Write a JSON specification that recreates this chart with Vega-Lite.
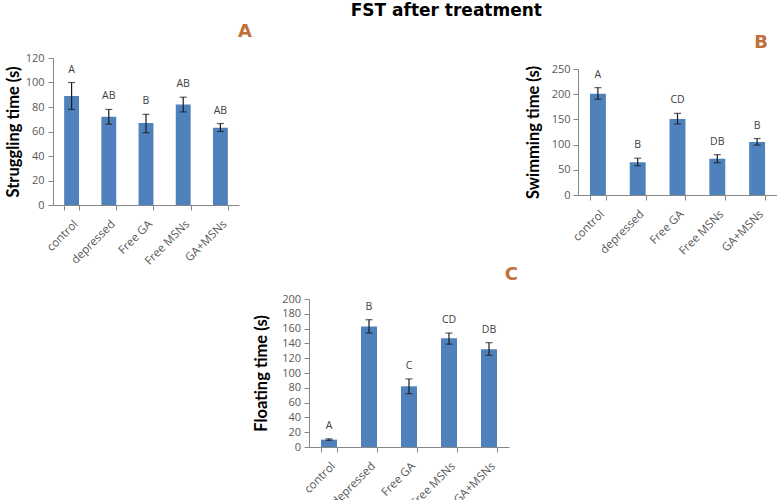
{
  "$schema": "https://vega.github.io/schema/vega-lite/v6.json",
  "padding": {"left": 5, "top": 2, "right": 0, "bottom": 0},
  "background": "white",
  "title": {"text": "FST after treatment", "font": "DejaVu Sans", "fontWeight": "bold", "fontSize": 17, "color": "#000000", "anchor": "middle", "frame": "bounds", "dx": 55, "offset": 3},
  "datasets": {
    "a": [
      {"group": "control", "mean": 89, "lo": 78, "hi": 100, "letter": "A"},
      {"group": "depressed", "mean": 72, "lo": 66, "hi": 78, "letter": "AB"},
      {"group": "Free GA", "mean": 67, "lo": 59, "hi": 74, "letter": "B"},
      {"group": "Free MSNs", "mean": 82, "lo": 76, "hi": 88, "letter": "AB"},
      {"group": "GA+MSNs", "mean": 63, "lo": 60, "hi": 66.5, "letter": "AB"}
    ],
    "b": [
      {"group": "control", "mean": 201, "lo": 190, "hi": 213, "letter": "A"},
      {"group": "depressed", "mean": 65, "lo": 58, "hi": 73, "letter": "B"},
      {"group": "Free GA", "mean": 151, "lo": 141, "hi": 162, "letter": "CD"},
      {"group": "Free MSNs", "mean": 72, "lo": 64, "hi": 80, "letter": "DB"},
      {"group": "GA+MSNs", "mean": 105, "lo": 99, "hi": 112, "letter": "B"}
    ],
    "c": [
      {"group": "control", "mean": 10, "lo": 9, "hi": 11, "letter": "A"},
      {"group": "depressed", "mean": 163, "lo": 154, "hi": 172, "letter": "B"},
      {"group": "Free GA", "mean": 82, "lo": 72, "hi": 92, "letter": "C"},
      {"group": "Free MSNs", "mean": 147, "lo": 139, "hi": 154, "letter": "CD"},
      {"group": "GA+MSNs", "mean": 132, "lo": 124, "hi": 141, "letter": "DB"}
    ],
    "empty": []
  },
  "config": {
    "view": {"stroke": null},
    "font": "Open Sans",
    "axis": {"grid": false, "domainColor": "#868686", "tickColor": "#868686", "tickSize": 5, "labelColor": "#595959", "labelFont": "Open Sans", "labelFontSize": 11, "titleFont": "Lato", "titleFontWeight": "bold", "titleFontSize": 16.5, "titleColor": "#000000"},
    "axisX": {"labelFontSize": 11.5},
    "title": {"font": "DejaVu Sans", "fontWeight": "bold", "fontSize": 18, "color": "#c0703c", "anchor": "end", "frame": "group"}
  },
  "spacing": -1,
  "vconcat": [
    {
      "spacing": 273,
      "hconcat": [
        {
          "width": 186, "height": 147,
          "title": {"text": "A", "dx": 13, "offset": 11},
          "data": {"name": "a"},
          "encoding": {"x": {"field": "group", "type": "nominal", "sort": null, "scale": {"paddingInner": 0.6, "paddingOuter": 0.3}, "axis": {"title": null, "labelAngle": -45, "tickBand": "extent", "labelPadding": 8}}},
          "layer": [
            {"mark": {"type": "bar", "color": "#4f81bd"}, "encoding": {"y": {"field": "mean", "type": "quantitative", "title": "Struggling time (s)", "scale": {"domain": [0, 120]}, "axis": {"values": [0, 20, 40, 60, 80, 100, 120], "titlePadding": 3.5, "labelPadding": 4}}}},
            {"mark": {"type": "errorbar", "ticks": {"size": 7}, "color": "#1a1a1a", "thickness": 1.2}, "encoding": {"y": {"field": "lo", "type": "quantitative", "title": "Struggling time (s)", "scale": {"domain": [0, 120]}, "axis": {"values": [0, 20, 40, 60, 80, 100, 120], "titlePadding": 3.5, "labelPadding": 4}}, "y2": {"field": "hi"}}},
            {"mark": {"type": "text", "dy": -10, "baseline": "alphabetic", "color": "#404040", "fontSize": 10.5, "font": "Open Sans"}, "encoding": {"y": {"field": "hi", "type": "quantitative", "title": "Struggling time (s)", "scale": {"domain": [0, 120]}, "axis": {"values": [0, 20, 40, 60, 80, 100, 120], "titlePadding": 3.5, "labelPadding": 4}}, "text": {"field": "letter"}}}
          ]
        },
        {
          "spacing": 4,
          "vconcat": [
            {
              "width": 199, "height": 1,
              "title": {"text": "B", "dx": -9, "offset": 6},
              "data": {"name": "empty"},
              "mark": {"type": "point", "opacity": 0}
            },
            {
              "width": 199, "height": 126,
              "data": {"name": "b"},
              "encoding": {"x": {"field": "group", "type": "nominal", "sort": null, "scale": {"paddingInner": 0.6, "paddingOuter": 0.3}, "axis": {"title": null, "labelAngle": -45, "tickBand": "extent", "labelPadding": 8}}},
              "layer": [
                {"mark": {"type": "bar", "color": "#4f81bd"}, "encoding": {"y": {"field": "mean", "type": "quantitative", "title": "Swimming time (s)", "scale": {"domain": [0, 250]}, "axis": {"values": [0, 50, 100, 150, 200, 250], "titlePadding": 10, "labelPadding": 3}}}},
                {"mark": {"type": "errorbar", "ticks": {"size": 7}, "color": "#1a1a1a", "thickness": 1.2}, "encoding": {"y": {"field": "lo", "type": "quantitative", "title": "Swimming time (s)", "scale": {"domain": [0, 250]}, "axis": {"values": [0, 50, 100, 150, 200, 250], "titlePadding": 10, "labelPadding": 3}}, "y2": {"field": "hi"}}},
                {"mark": {"type": "text", "dy": -10, "baseline": "alphabetic", "color": "#404040", "fontSize": 10.5, "font": "Open Sans"}, "encoding": {"y": {"field": "hi", "type": "quantitative", "title": "Swimming time (s)", "scale": {"domain": [0, 250]}, "axis": {"values": [0, 50, 100, 150, 200, 250], "titlePadding": 10, "labelPadding": 3}}, "text": {"field": "letter"}}}
              ]
            }
          ]
        }
      ]
    },
    {
      "spacing": 10,
      "hconcat": [
        {
          "width": 190, "height": 1,
          "data": {"name": "empty"},
          "mark": {"type": "point", "opacity": 0}
        },
        {
          "width": 200, "height": 148,
          "title": {"text": "C", "dx": 9, "offset": 9},
          "data": {"name": "c"},
          "encoding": {"x": {"field": "group", "type": "nominal", "sort": null, "scale": {"paddingInner": 0.6, "paddingOuter": 0.3}, "axis": {"title": null, "labelAngle": -45, "tickBand": "extent", "labelPadding": 8}}},
          "layer": [
            {"mark": {"type": "bar", "color": "#4f81bd"}, "encoding": {"y": {"field": "mean", "type": "quantitative", "title": "Floating time (s)", "scale": {"domain": [0, 200]}, "axis": {"values": [0, 20, 40, 60, 80, 100, 120, 140, 160, 180, 200], "titlePadding": 12.5, "labelPadding": 3.5}}}},
            {"mark": {"type": "errorbar", "ticks": {"size": 7}, "color": "#1a1a1a", "thickness": 1.2}, "encoding": {"y": {"field": "lo", "type": "quantitative", "title": "Floating time (s)", "scale": {"domain": [0, 200]}, "axis": {"values": [0, 20, 40, 60, 80, 100, 120, 140, 160, 180, 200], "titlePadding": 12.5, "labelPadding": 3.5}}, "y2": {"field": "hi"}}},
            {"mark": {"type": "text", "dy": -10, "baseline": "alphabetic", "color": "#404040", "fontSize": 10.5, "font": "Open Sans"}, "encoding": {"y": {"field": "hi", "type": "quantitative", "title": "Floating time (s)", "scale": {"domain": [0, 200]}, "axis": {"values": [0, 20, 40, 60, 80, 100, 120, 140, 160, 180, 200], "titlePadding": 12.5, "labelPadding": 3.5}}, "text": {"field": "letter"}}}
          ]
        }
      ]
    }
  ]
}
